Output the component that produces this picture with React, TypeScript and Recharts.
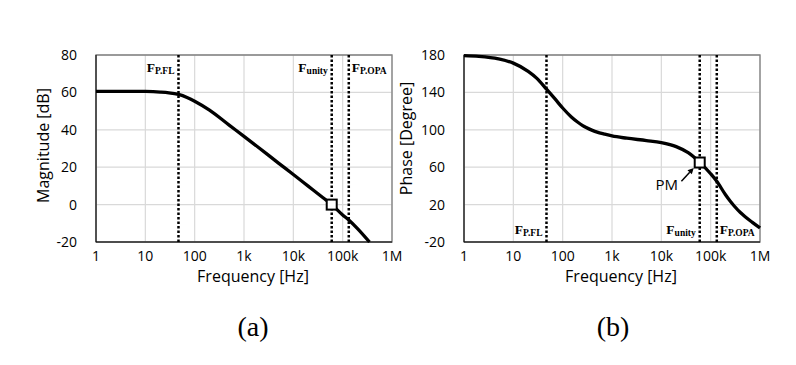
import React from 'react';
import {
  LineChart,
  Line,
  XAxis,
  YAxis,
  CartesianGrid,
  ReferenceLine,
  ReferenceDot,
  ReferenceArea,
} from 'recharts';

// frequency axis (log)
const freqTicks = [1, 10, 100, 1000, 10000, 100000, 1000000];
const freqTickLabels = ['1', '10', '100', '1k', '10k', '100k', '1M'];

// (a) magnitude
const magFreq = [1, 3, 10, 20, 30, 47, 70, 100, 200, 500, 1000, 2000, 5000, 10000, 20000, 40000, 60000, 100000, 133000, 200000, 350000];
const magDb = [60.6, 60.6, 60.5, 60.2, 59.8, 58.9, 57.3, 55.3, 50.5, 42.5, 36.5, 30.4, 22.2, 16.1, 9.9, 3.7, 0, -5.5, -8.2, -12.8, -20];
const magTicks = [-20, 0, 20, 40, 60, 80];

// (b) phase
const phaseFreq = [1, 2, 5, 10, 20, 30, 47, 70, 100, 150, 200, 250, 300, 400, 500, 700, 1000, 2000, 5000, 10000, 20000, 35000, 60000, 100000, 133000, 200000, 250000, 300000, 400000, 500000, 700000, 1000000];
const phaseDeg = [179.3, 178.5, 175.8, 171.3, 162.5, 155, 143.5, 133, 123.3, 113.7, 108.3, 104.8, 102.4, 99.4, 97.5, 95.4, 93.4, 91, 88.5, 86.3, 82, 75.5, 65.2, 53, 45, 30.5, 23.5, 18.5, 11.5, 7, 1, -5];
const phaseTicks = [-20, 20, 60, 100, 140, 180];

// pole / crossover markers
const markerFreqs = [47, 60000, 133000];
const markerSubs = ['P.FL', 'unity', 'P.OPA'];
const unityFreq = 60000;
const unityMag = 0;
const unityPhase = 65;

const magData = magFreq.map((f, i) => ({ f, v: magDb[i] }));
const phaseData = phaseFreq.map((f, i) => ({ f, v: phaseDeg[i] }));

const SANS = "'Open Sans', Lato, sans-serif";
const SERIF = "'Liberation Serif', 'Times New Roman', serif";

const fmtFreq = (v: number) => freqTickLabels[freqTicks.indexOf(v)] ?? String(v);

const FLabel = ({ viewBox, sub, right, top }: any) => {
  const { x, y, height } = viewBox;
  const ty = top ? y + 17 : y + height - 8;
  const tx = right ? x + 3 : x - 4;
  return (
    <text x={tx} y={ty} textAnchor={right ? 'start' : 'end'} fontFamily={SERIF} fontWeight="bold" fill="#000">
      <tspan fontSize={13.5}>F</tspan>
      <tspan fontSize={9.5} dy={2}>{sub}</tspan>
    </text>
  );
};

const Square = ({ cx, cy }: any) => (
  <rect x={cx - 5} y={cy - 5} width={10} height={10} fill="#fff" stroke="#000" strokeWidth={2} />
);

const PmMarker = ({ cx, cy }: any) => (
  <g>
    <line x1={cx - 18.3} y1={cy + 18.7} x2={cx - 10} y2={cy + 9.8} stroke="#000" strokeWidth={1.5} />
    <polygon points={`${cx - 6},${cy + 5.4} ${cx - 7.9},${cy + 11.8} ${cx - 12.3},${cy + 7.8}`} fill="#000" />
    <text x={cx - 33} y={cy + 21} textAnchor="middle" dominantBaseline="central" fontFamily={SANS} fontSize={15} fill="#000">
      PM
    </text>
    <Square cx={cx} cy={cy} />
  </g>
);

const YTitle = ({ viewBox, value, gap, dy }: any) => {
  const cx = viewBox.x + viewBox.width - gap;
  const cy = viewBox.y + viewBox.height / 2 + dy;
  return (
    <text x={cx} y={cy} transform={`rotate(-90, ${cx}, ${cy})`} textAnchor="middle" dominantBaseline="central" fontFamily={SANS} fontSize={16} fill="#000">
      {value}
    </text>
  );
};

const XTitle = ({ viewBox }: any) => {
  const cx = viewBox.x + viewBox.width / 2 + 9;
  const cy = viewBox.y + 34;
  return (
    <text x={cx} y={cy} textAnchor="middle" dominantBaseline="central" fontFamily={SANS} fontSize={16} fill="#000">
      Frequency [Hz]
    </text>
  );
};

const tickStyle = { fontSize: 14, fill: '#000', fontFamily: SANS };

const BodePanel = ({ width, data, yTicks, yTitle, margin, titleGap, titleDy, labelsTop, dotY, pm }: any) => (
  <LineChart width={width} height={300} data={data} margin={margin}>
    <CartesianGrid stroke="#d9d9d9" strokeWidth={1.2} />
    <ReferenceArea
      x1={1}
      x2={1000000}
      y1={yTicks[0]}
      y2={yTicks[yTicks.length - 1]}
      fill="none"
      stroke="#7f7f7f"
      strokeWidth={1.3}
    />
    <XAxis
      dataKey="f"
      type="number"
      scale="log"
      domain={[1, 1000000]}
      ticks={freqTicks}
      tickFormatter={fmtFreq}
      tickLine={false}
      tickMargin={3}
      height={50}
      stroke="#000"
      tick={tickStyle}
      interval={0}
      label={(p: any) => <XTitle {...p} />}
    />
    <YAxis
      type="number"
      domain={[yTicks[0], yTicks[yTicks.length - 1]]}
      ticks={yTicks}
      tickLine={false}
      tickMargin={13}
      width={60}
      stroke="#000"
      tick={tickStyle}
      interval={0}
      label={(p: any) => <YTitle {...p} value={yTitle} gap={titleGap} dy={titleDy} />}
    />
    {markerFreqs.map((f, i) => (
      <ReferenceLine
        key={f}
        x={f}
        stroke="#000"
        strokeWidth={2.5}
        strokeDasharray="2.5 2"
        label={(p: any) => <FLabel {...p} sub={markerSubs[i]} right={i === 2} top={labelsTop} />}
      />
    ))}
    <Line dataKey="v" type="monotone" stroke="#000" strokeWidth={3.3} dot={false} isAnimationActive={false} />
    <ReferenceDot x={unityFreq} y={dotY} shape={pm ? (p: any) => <PmMarker {...p} /> : (p: any) => <Square {...p} />} />
  </LineChart>
);

export default function App() {
  return (
    <div style={{ position: 'absolute', left: 0, top: 0, width: 796, height: 365, background: '#fff', overflow: 'hidden' }}>
      <div style={{ position: 'absolute', left: 388, top: 0 }}>
        <BodePanel
          width={408}
          data={phaseData}
          yTicks={phaseTicks}
          yTitle="Phase [Degree]"
          margin={{ top: 55, right: 36, bottom: 8, left: 16 }}
          titleGap={58}
          titleDy={-10}
          labelsTop={false}
          dotY={unityPhase}
          pm
        />
      </div>
      <div style={{ position: 'absolute', left: 0, top: 0 }}>
        <BodePanel
          width={406}
          data={magData}
          yTicks={magTicks}
          yTitle="Magnitude [dB]"
          margin={{ top: 55, right: 14, bottom: 8, left: 36 }}
          titleGap={53}
          titleDy={-3}
          labelsTop
          dotY={unityMag}
        />
      </div>
      <div style={{ position: 'absolute', left: 0, top: 311, width: 506, textAlign: 'center', fontFamily: SERIF, fontSize: 28, lineHeight: '32px' }}>
        (a)
      </div>
      <div style={{ position: 'absolute', left: 360, top: 311, width: 506, textAlign: 'center', fontFamily: SERIF, fontSize: 28, lineHeight: '32px' }}>
        (b)
      </div>
    </div>
  );
}
